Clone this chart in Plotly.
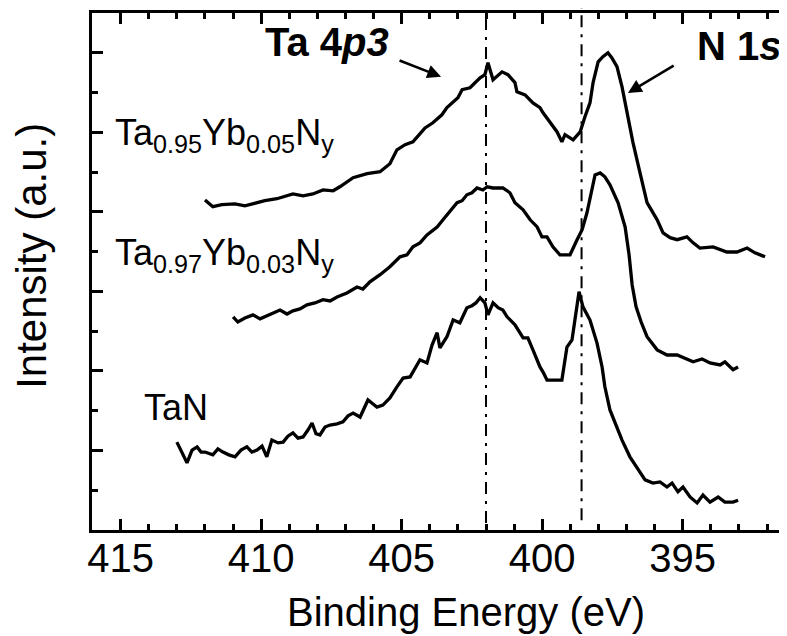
import plotly.graph_objects as go

# ---- data (binding energy in eV, intensity in arbitrary units, offset stacked) ----
be_yb05 = [412.00, 411.72, 411.40, 410.93, 410.58, 410.15, 409.87, 409.44, 409.15, 408.87,
           408.51, 408.16, 407.80, 407.44, 407.20, 406.73, 406.23, 405.77, 405.42, 405.17,
           404.88, 404.60, 404.17, 403.89, 403.57, 403.39, 403.00, 402.85, 402.57, 402.21,
           402.04, 401.93, 401.75, 401.43, 401.22, 400.97, 400.90, 400.61, 400.33, 400.08,
           399.97, 399.65, 399.47, 399.30, 399.19, 398.90, 398.65, 398.48, 398.30, 398.19,
           398.01, 397.84, 397.66, 397.52, 397.34, 397.16, 396.98, 396.77, 396.52, 396.27,
           395.91, 395.70, 395.45, 395.20, 394.85, 394.63, 394.39, 393.92, 393.43, 393.07,
           392.71, 392.43, 392.07]
int_yb05 = [8.30, 8.13, 8.18, 8.20, 8.15, 8.23, 8.28, 8.33, 8.40, 8.45,
            8.40, 8.45, 8.55, 8.53, 8.63, 8.86, 8.96, 9.01, 9.21, 9.56,
            9.69, 9.76, 10.11, 10.24, 10.44, 10.62, 10.87, 11.07, 11.12, 11.37,
            11.45, 11.75, 11.32, 11.52, 11.45, 11.25, 11.02, 10.94, 10.74, 10.62,
            10.49, 10.19, 10.01, 9.76, 9.94, 9.81, 10.01, 10.39, 10.74, 11.25,
            11.77, 11.90, 12.00, 11.87, 11.65, 11.14, 10.49, 9.74, 8.98, 8.23,
            7.80, 7.47, 7.35, 7.30, 7.37, 7.22, 7.09, 7.12, 6.99, 6.99,
            7.09, 6.97, 6.87]

be_yb03 = [411.00, 410.83, 410.58, 410.29, 410.04, 409.80, 409.33, 409.08, 408.87, 408.62,
           408.37, 408.09, 407.80, 407.55, 407.30, 406.95, 406.59, 406.38, 406.13, 405.77,
           405.42, 405.06, 404.81, 404.60, 404.35, 404.10, 403.89, 403.74, 403.53, 403.39,
           403.03, 402.85, 402.68, 402.50, 402.32, 402.11, 401.96, 401.75, 401.61, 401.40,
           401.15, 400.97, 400.68, 400.43, 400.18, 400.01, 399.83, 399.62, 399.37, 399.01,
           398.76, 398.58, 398.41, 398.23, 398.12, 397.94, 397.77, 397.59, 397.30, 397.05,
           396.91, 396.80, 396.66, 396.48, 396.27, 395.91, 395.56, 395.20, 394.99, 394.63,
           394.31, 394.03, 393.67, 393.50, 393.21, 393.03]
int_yb03 = [5.36, 5.23, 5.33, 5.41, 5.31, 5.38, 5.53, 5.43, 5.51, 5.56,
            5.66, 5.71, 5.79, 5.76, 5.86, 5.96, 6.11, 6.06, 6.24, 6.42,
            6.62, 6.87, 6.92, 7.12, 7.22, 7.42, 7.55, 7.62, 7.80, 7.92,
            8.23, 8.28, 8.43, 8.48, 8.60, 8.55, 8.63, 8.60, 8.60, 8.60,
            8.48, 8.23, 8.05, 7.80, 7.62, 7.37, 7.37, 7.12, 6.92, 6.92,
            7.30, 7.55, 7.97, 8.55, 8.93, 8.98, 8.88, 8.68, 8.23, 7.62,
            6.92, 6.16, 5.61, 5.23, 4.86, 4.53, 4.40, 4.40, 4.33, 4.23,
            4.30, 4.20, 4.15, 4.23, 4.03, 4.10]

be_tan = [413.00, 412.82, 412.64, 412.46, 412.28, 412.14, 412.00, 411.72, 411.54, 411.36,
          411.15, 410.93, 410.72, 410.51, 410.33, 410.15, 409.97, 409.80, 409.62, 409.40,
          409.22, 409.05, 408.87, 408.69, 408.51, 408.33, 408.19, 408.05, 407.91, 407.73,
          407.55, 407.30, 407.09, 406.91, 406.73, 406.48, 406.34, 406.20, 406.02, 405.88,
          405.67, 405.42, 405.17, 404.95, 404.70, 404.53, 404.35, 404.10, 403.92, 403.74,
          403.64, 403.39, 403.17, 402.93, 402.68, 402.50, 402.36, 402.21, 402.04, 401.93,
          401.75, 401.57, 401.40, 401.25, 400.97, 400.68, 400.51, 400.33, 400.08, 399.97,
          399.83, 399.47, 399.30, 399.12, 398.94, 398.69, 398.55, 398.30, 398.05, 397.87,
          397.77, 397.59, 397.34, 397.16, 396.88, 396.59, 396.34, 396.06, 395.81, 395.56,
          395.38, 395.17, 394.99, 394.74, 394.49, 394.28, 394.03, 393.74, 393.50, 393.21,
          393.03]
int_tan = [2.21, 1.96, 1.69, 2.01, 2.09, 1.96, 1.96, 1.89, 2.04, 1.96,
           1.89, 1.84, 2.01, 2.09, 1.96, 2.01, 2.11, 1.84, 2.26, 2.19,
           2.21, 2.36, 2.44, 2.31, 2.34, 2.52, 2.69, 2.42, 2.39, 2.59,
           2.64, 2.67, 2.72, 2.87, 2.94, 2.84, 3.04, 3.27, 3.17, 3.09,
           3.14, 3.32, 3.60, 3.82, 3.85, 4.08, 4.28, 4.20, 4.65, 4.96,
           4.58, 4.86, 5.28, 5.21, 5.59, 5.64, 5.71, 5.84, 5.71, 5.41,
           5.71, 5.59, 5.53, 5.36, 5.16, 4.83, 4.83, 4.53, 4.10, 3.97,
           3.77, 3.77, 3.77, 4.60, 4.78, 5.99, 5.61, 5.28, 4.70, 4.10,
           3.60, 3.02, 2.59, 2.26, 1.84, 1.51, 1.26, 1.18, 1.21, 1.08,
           1.18, 0.96, 1.08, 0.83, 0.68, 0.88, 0.70, 0.83, 0.70, 0.70,
           0.75]

series_names = ["Ta<sub>0.95</sub>Yb<sub>0.05</sub>N<sub>y</sub>",
                "Ta<sub>0.97</sub>Yb<sub>0.03</sub>N<sub>y</sub>",
                "TaN"]
ref_lines_ev = [402.0, 398.6]          # Ta 4p3 and N 1s reference positions
x_range = [416.02, 391.29]
y_range = [0, 13]
x_tick_vals = [415, 410, 405, 400, 395]

FONT = "Liberation Sans, Arial, Helvetica, sans-serif"

fig = go.Figure()
for xs, ys in [(be_yb05, int_yb05), (be_yb03, int_yb03), (be_tan, int_tan)]:
    fig.add_trace(go.Scatter(x=xs, y=ys, mode="lines",
                             line=dict(color="black", width=3.3),
                             hoverinfo="skip", showlegend=False))
# dummy trace for right-side tick axis
fig.add_trace(go.Scatter(x=[], y=[], yaxis="y2", showlegend=False))

# dash-dot reference lines
for xv, (y0, y1) in zip(ref_lines_ev, [(0.0135, 0.996), (0.019, 1.012)]):
    fig.add_shape(type="line", xref="x", yref="paper", x0=xv, x1=xv, y0=y0, y1=y1,
                  line=dict(color="black", width=2, dash="12px,7px,3px,7px"),
                  layer="above")

ann = []
# peak labels
ann.append(dict(text="<b>Ta 4<i>p3</i></b>", x=409.94, y=12.28, xref="x", yref="y",
                xanchor="left", yanchor="middle", showarrow=False,
                font=dict(family=FONT, size=40, color="black")))
ann.append(dict(text="<b>N 1<i>s</i></b>", x=394.56, y=12.16, xref="x", yref="y",
                xanchor="left", yanchor="middle", showarrow=False,
                font=dict(family=FONT, size=40, color="black")))
# arrows
ann.append(dict(text="", x=403.60, y=11.40, ax=405.13, ay=11.82, xref="x", yref="y",
                axref="x", ayref="y", showarrow=True, arrowhead=2, arrowsize=1.1,
                arrowwidth=2.5, arrowcolor="black", standoff=0))
ann.append(dict(text="", x=396.95, y=10.99, ax=395.27, ay=11.70, xref="x", yref="y",
                axref="x", ayref="y", showarrow=True, arrowhead=2, arrowsize=1.1,
                arrowwidth=2.5, arrowcolor="black", standoff=0))
# sample labels
for name, (lx, ly) in zip(series_names, [(415.27, 9.94), (415.27, 6.92), (414.24, 3.09)]):
    ann.append(dict(text=name, x=lx, y=ly, xref="x", yref="y", xanchor="left",
                    yanchor="middle", showarrow=False,
                    font=dict(family=FONT, size=36, color="black")))
# axis titles
ann.append(dict(text="Binding Energy (eV)", x=0.538, y=-0.159, xref="paper", yref="paper",
                xanchor="center", yanchor="middle", showarrow=False,
                font=dict(family=FONT, size=40, color="black")))
ann.append(dict(text="Intensity (a.u.)", x=-0.0865, y=0.530, xref="paper", yref="paper",
                xanchor="center", yanchor="middle", textangle=-90, showarrow=False,
                font=dict(family=FONT, size=42, color="black")))

# page body has an 8 px default margin, so the figure is 8 px smaller on each axis
fig.update_layout(
    width=779, height=628,
    margin=dict(l=84, r=0, t=5, b=106),
    plot_bgcolor="white", paper_bgcolor="white",
    showlegend=False,
    annotations=ann,
    xaxis=dict(range=x_range, tickvals=x_tick_vals, ticks="inside", ticklen=11,
               tickwidth=3, tickcolor="black", showline=True, linewidth=3,
               linecolor="black", mirror="ticks", showgrid=False, zeroline=False,
               ticklabelstandoff=-9,
               tickfont=dict(family=FONT, size=40, color="black"),
               minor=dict(dtick=1, tick0=0, ticks="inside", ticklen=6, tickwidth=3,
                          tickcolor="black", showgrid=False)),
    yaxis=dict(range=y_range, dtick=2, tick0=0, ticks="inside", ticklen=11,
               tickwidth=3, tickcolor="black", showline=True, linewidth=3,
               linecolor="black", mirror=False, showgrid=False, zeroline=False,
               showticklabels=False,
               minor=dict(dtick=1, tick0=0, ticks="inside", ticklen=6, tickwidth=3,
                          tickcolor="black", showgrid=False)),
    yaxis2=dict(range=y_range, overlaying="y", side="right", anchor="x",
                tickvals=[2, 4, 6, 8, 10, 12], ticks="inside", ticklen=5, tickwidth=3,
                tickcolor="black", showline=False, showgrid=False, zeroline=False,
                showticklabels=False),
)

fig.write_html("out.html")
